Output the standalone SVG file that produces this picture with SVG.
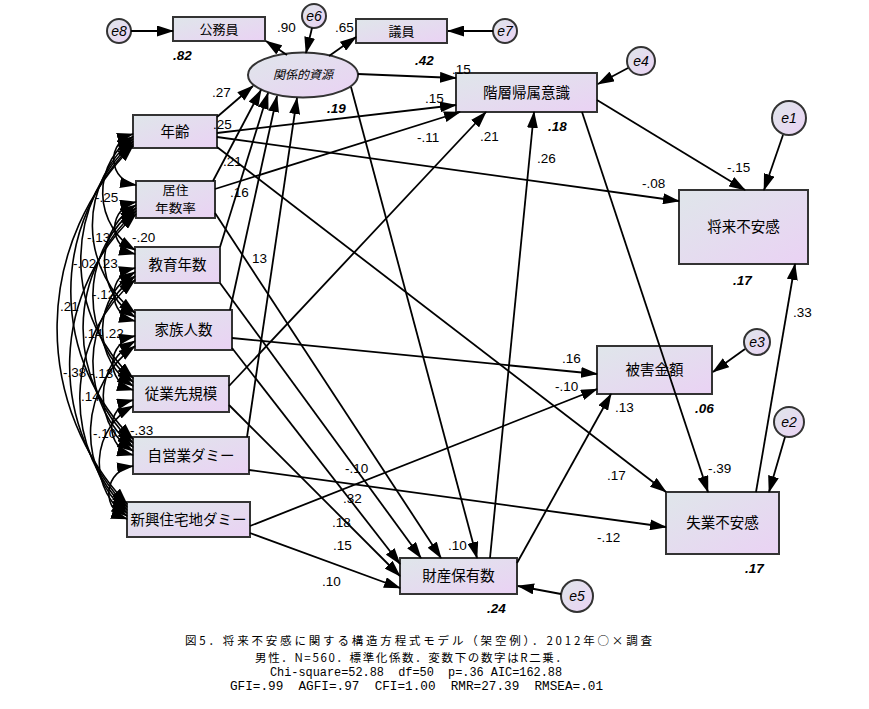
<svg xmlns="http://www.w3.org/2000/svg" width="869" height="709" viewBox="0 0 869 709">
<defs>
<linearGradient id="g" x1="0" y1="0" x2="1" y2="1">
<stop offset="0" stop-color="#dfe6ea"/>
<stop offset="1" stop-color="#ead2f4"/>
</linearGradient>
<marker id="ah" viewBox="0 0 17 11" refX="16" refY="5.5" markerWidth="17" markerHeight="11" markerUnits="userSpaceOnUse" orient="auto-start-reverse">
<path d="M0,0 L17,5.5 L0,11 z" fill="#000"/>
</marker>
<style>
.box{fill:url(#g);stroke:#333;stroke-width:2}
.lbl{font-family:"Noto Sans CJK JP","Noto Sans CJK SC",sans-serif;font-size:14.5px;text-anchor:middle;fill:#000}
.sm{font-size:13px}
.two{font-size:12px}
.num{font-family:"Liberation Sans",Arial,sans-serif;font-size:13.5px;fill:#000}
.r2{font-family:"Liberation Sans",Arial,sans-serif;font-size:13.5px;font-weight:bold;font-style:italic;fill:#000}
.err{font-family:"Liberation Sans",Arial,sans-serif;font-size:14px;font-style:italic;text-anchor:middle;fill:#000}
.cn{fill:none;stroke:#000;stroke-width:1.8;marker-end:url(#ah)}
.cv{fill:none;stroke:#000;stroke-width:1.6;marker-start:url(#ah);marker-end:url(#ah)}
.cap{font-family:"Noto Sans CJK JP","Noto Sans CJK SC",monospace;font-size:11.5px;fill:#000}
.capm{font-family:"Liberation Mono","Noto Sans CJK JP",monospace;font-size:12px;fill:#000}
</style>
</defs>
<rect width="869" height="709" fill="#fff"/>

<g id="e8"><circle cx="119" cy="31" r="12" class="box"/><text class="err" x="119" y="36">e8</text></g>
<g id="e6"><circle cx="314" cy="16" r="12" class="box"/><text class="err" x="314" y="21">e6</text></g>
<g id="e7"><circle cx="505" cy="31" r="12" class="box"/><text class="err" x="505" y="36">e7</text></g>
<g id="e4"><circle cx="641" cy="61" r="14" class="box"/><text class="err" x="641" y="66">e4</text></g>
<g id="e1"><circle cx="789" cy="118" r="17" class="box"/><text class="err" x="789" y="123">e1</text></g>
<g id="e3"><circle cx="757" cy="342" r="13" class="box"/><text class="err" x="757" y="347">e3</text></g>
<g id="e2"><circle cx="789" cy="422" r="15" class="box"/><text class="err" x="789" y="427">e2</text></g>
<g id="e5"><circle cx="577" cy="596" r="16" class="box"/><text class="err" x="577" y="601">e5</text></g>

<g id="koumuin"><rect class="box" x="173" y="17" width="92" height="24"/><text class="lbl sm" x="219" y="34">公務員</text><text class="r2" x="173" y="60">.82</text></g>
<g id="giin"><rect class="box" x="356" y="19" width="91" height="24"/><text class="lbl sm" x="401.5" y="36">議員</text><text class="r2" x="415" y="65">.42</text></g>
<g id="kankeiteki"><ellipse class="box" cx="303" cy="75" rx="55" ry="22.5"/><text class="lbl" style="font-size:12px;font-style:italic" x="303" y="79">関係的資源</text><text class="r2" x="327" y="113">.19</text></g>
<g id="kaisou"><rect class="box" x="456" y="73" width="141" height="39"/><text class="lbl" x="526.5" y="98">階層帰属意識</text><text class="r2" x="548" y="131">.18</text></g>
<g id="shourai"><rect class="box" x="679" y="190" width="129" height="74"/><text class="lbl" x="743.5" y="232">将来不安感</text><text class="r2" x="733" y="285">.17</text></g>
<g id="higai"><rect class="box" x="597" y="346" width="115" height="48"/><text class="lbl" x="654.5" y="375">被害金額</text><text class="r2" x="695" y="413">.06</text></g>
<g id="shitsugyou"><rect class="box" x="666" y="492" width="113" height="62"/><text class="lbl" x="722.5" y="528">失業不安感</text><text class="r2" x="745" y="573">.17</text></g>
<g id="zaisan"><rect class="box" x="400" y="558" width="117" height="36"/><text class="lbl" x="458.5" y="581">財産保有数</text><text class="r2" x="487" y="613">.24</text></g>
<g id="nenrei"><rect class="box" x="133" y="115" width="84" height="33"/><text class="lbl" x="175" y="137">年齢</text></g>
<g id="kyojuu"><rect class="box" x="136" y="181" width="79" height="37"/><text class="lbl two" x="175.5" y="195" textLength="26" lengthAdjust="spacingAndGlyphs">居住</text><text class="lbl two" x="175.5" y="213" textLength="41" lengthAdjust="spacingAndGlyphs">年数率</text></g>
<g id="kyouiku"><rect class="box" x="135" y="247" width="85" height="36"/><text class="lbl" x="177.5" y="270">教育年数</text></g>
<g id="kazoku"><rect class="box" x="135" y="310" width="97" height="40"/><text class="lbl" x="183.5" y="335">家族人数</text></g>
<g id="juugyou"><rect class="box" x="133" y="376" width="96" height="36"/><text class="lbl" x="181" y="399">従業先規模</text></g>
<g id="jiei"><rect class="box" x="133" y="437" width="116" height="37"/><text class="lbl" x="191" y="461">自営業ダミー</text></g>
<g id="shinkou"><rect class="box" x="127" y="502" width="123" height="35"/><text class="lbl" x="188.5" y="525">新興住宅地ダミー</text></g>

<g id="connectors">
<path class="cn" d="M131,31 L173,31"/>
<path class="cn" d="M493,31 L448,31"/>
<path class="cn" d="M312,28 L306,53"/>
<path class="cn" d="M287,55 L266,41"/>
<path class="cn" d="M329,56 L356,37"/>
<path class="cn" d="M358,74 L456,78"/>
<path class="cn" d="M217,117 L253,86"/>
<path class="cn" d="M213,181 L261,90"/>
<path class="cn" d="M220,247 L268,93"/>
<path class="cn" d="M230,310 L277,96"/>
<path class="cn" d="M247,437 L297,98"/>
<path class="cn" d="M217,133 L456,105"/>
<path class="cn" d="M215,189 L460,112"/>
<path class="cn" d="M229,386 L486,112"/>
<path class="cn" d="M490,558 L534,112"/>
<path class="cn" d="M597,100 L745,190"/>
<path class="cn" d="M582,112 L708,492"/>
<path class="cn" d="M628,68 L598,84"/>
<path class="cn" d="M217,137 L679,201"/>
<path class="cn" d="M783,135 L764,190"/>
<path class="cn" d="M756,492 L795,264"/>
<path class="cn" d="M232,338 L597,374"/>
<path class="cn" d="M250,526 L597,389"/>
<path class="cn" d="M517,563 L611,394"/>
<path class="cn" d="M745,349 L713,372"/>
<path class="cn" d="M217,147 L666,492"/>
<path class="cn" d="M249,470 L666,527"/>
<path class="cn" d="M785,437 L769,492"/>
<path class="cn" d="M250,533 L400,588"/>
<path class="cn" d="M229,405 L400,576"/>
<path class="cn" d="M232,348 L400,564"/>
<path class="cn" d="M220,283 L421,558"/>
<path class="cn" d="M215,213 L441,558"/>
<path class="cn" d="M351,87 L477,558"/>
<path class="cn" d="M561,594 L518,586"/>
<path class="cv" d="M133,134 A26.1,26.1 0 0 0 136,185"/>
<path class="cv" d="M133,136.5 A67.1,67.1 0 0 0 135,250"/>
<path class="cv" d="M133,139 A111.8,111.8 0 0 0 135,313"/>
<path class="cv" d="M133,141.5 A160,160 0 0 0 133,378"/>
<path class="cv" d="M133,144 A206,206 0 0 0 133,439"/>
<path class="cv" d="M133,146 A256.3,256.3 0 0 0 127,504"/>
<path class="cv" d="M136,202 A26.65,26.65 0 0 0 135,254"/>
<path class="cv" d="M136,205 A66.1,66.1 0 0 0 135,317"/>
<path class="cv" d="M136,208 A111.8,111.8 0 0 0 133,382"/>
<path class="cv" d="M136,211 A156.6,156.6 0 0 0 133,443"/>
<path class="cv" d="M136,214 A204.7,204.7 0 0 0 127,507"/>
<path class="cv" d="M135,268 A27.2,27.2 0 0 0 135,321"/>
<path class="cv" d="M135,272 A67.4,67.4 0 0 0 133,386"/>
<path class="cv" d="M135,276 A109.5,109.5 0 0 0 133,447"/>
<path class="cv" d="M135,280 A155.1,155.1 0 0 0 127,510"/>
<path class="cv" d="M135,336 A27.8,27.8 0 0 0 133,390"/>
<path class="cv" d="M135,341 A64.6,64.6 0 0 0 133,451"/>
<path class="cv" d="M135,346 A106.7,106.7 0 0 0 127,513"/>
<path class="cv" d="M133,400 A28.4,28.4 0 0 0 133,455"/>
<path class="cv" d="M133,406 A64.8,64.8 0 0 0 127,516"/>
<path class="cv" d="M133,466 A27.4,27.4 0 0 0 127,519"/>
</g>

<g id="edge-labels">
<text class="num" x="277" y="32">.90</text>
<text class="num" x="335" y="32">.65</text>
<text class="num" x="452" y="74">.15</text>
<text class="num" x="425" y="103">.15</text>
<text class="num" x="417" y="142">-.11</text>
<text class="num" x="480" y="141">.21</text>
<text class="num" x="537" y="163">.26</text>
<text class="num" x="212" y="97">.27</text>
<text class="num" x="213" y="129">.25</text>
<text class="num" x="223" y="166">.21</text>
<text class="num" x="230" y="197">.16</text>
<text class="num" x="252" y="263">13</text>
<text class="num" x="727" y="172">-.15</text>
<text class="num" x="642" y="188">-.08</text>
<text class="num" x="793" y="317">.33</text>
<text class="num" x="562" y="363">.16</text>
<text class="num" x="555" y="391">-.10</text>
<text class="num" x="615" y="412">.13</text>
<text class="num" x="708" y="473">-.39</text>
<text class="num" x="607" y="480">.17</text>
<text class="num" x="597" y="542">-.12</text>
<text class="num" x="345" y="473">-.10</text>
<text class="num" x="343" y="503">.32</text>
<text class="num" x="332" y="527">.18</text>
<text class="num" x="333" y="550">.15</text>
<text class="num" x="448" y="550">.10</text>
<text class="num" x="322" y="586">.10</text>
<text class="num" x="95" y="202">-.25</text>
<text class="num" x="87" y="242">-.13</text>
<text class="num" x="132" y="242">-.20</text>
<text class="num" x="73" y="268">-.02</text>
<text class="num" x="99" y="268">.23</text>
<text class="num" x="92" y="299">-.12</text>
<text class="num" x="60" y="311">.21</text>
<text class="num" x="84" y="338">.14</text>
<text class="num" x="105" y="338">.22</text>
<text class="num" x="63" y="377">-.38</text>
<text class="num" x="90" y="378">-.13</text>
<text class="num" x="81" y="401">.14</text>
<text class="num" x="93" y="438">-.10</text>
<text class="num" x="130" y="435">-.33</text>
</g>

<g id="caption">
<text class="cap" x="185" y="645" textLength="467" lengthAdjust="spacing">図5．将来不安感に関する構造方程式モデル（架空例）．2012年○×調査</text>
<text class="cap" x="255" y="662" textLength="312" lengthAdjust="spacing">男性．N=560．標準化係数．変数下の数字はR二乗．</text>
<text class="capm" x="270" y="676" textLength="292" lengthAdjust="spacingAndGlyphs" xml:space="preserve">Chi-square=52.88  df=50  p=.36 AIC=162.88</text>
<text class="capm" x="230" y="690" textLength="373" lengthAdjust="spacingAndGlyphs" xml:space="preserve">GFI=.99  AGFI=.97  CFI=1.00  RMR=27.39  RMSEA=.01</text>
</g>
</svg>
